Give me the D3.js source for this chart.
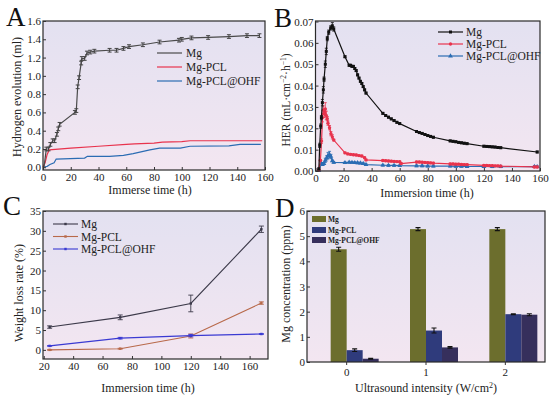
<!DOCTYPE html>
<html>
<head>
<meta charset="utf-8">
<script src="https://cdn.jsdelivr.net/npm/d3@7"></script>
<style>
  body { margin: 0; background: #fff; }
  svg, svg text { font-family: "Liberation Serif", "Times New Roman", Times, serif; }
  .tick text { font-size: 11px; fill: #222; }
  .tick line { stroke: #333; }
</style>
</head>
<body>
<div id="chart"></div>
<script>

// ---- panel A : hydrogen evolution (ml) vs immerse time (h) ----
var aMg = [[0,0],[0.7,0],[2.4,0.2],[4,0.2],[5.3,0.25],[7,0.29],[8.4,0.29],[10,0.36],[11,0.42],[12,0.47],
  [23,0.6],[24,0.62],[25,0.88],[26,0.98],[27.5,1.14],[28,1.19],[30,1.19],[31.7,1.25],[34,1.26],[37,1.27],
  [48,1.28],[53,1.28],[58,1.3],[62,1.32],[72,1.34],[84,1.37],[98,1.39],[100,1.4],[107,1.415],[119,1.42],
  [134,1.43],[147,1.44],[156,1.44]]
var aPCL = [[0,0],[1.5,0.05],[3,0.14],[4.5,0.19],[20,0.21],[40,0.23],[60,0.25],[66,0.255],[80,0.265],
  [86,0.275],[100,0.28],[106,0.29],[158,0.29]]
var aOHF = [[0,0],[3,0.01],[5,0.03],[8,0.05],[9.5,0.09],[30,0.1],[32,0.12],[48,0.12],[58,0.13],[65,0.15],
  [77,0.19],[84,0.21],[99,0.21],[106,0.23],[134,0.235],[142,0.25],[157,0.25]]
var aYTicks = [0,0.2,0.4,0.6,0.8,1.0,1.2,1.4,1.6]
var timeTicks = [0,20,40,60,80,100,120,140,160]

// ---- panel B : HER vs immersion time, [t, value, error] ----
var bMg = [[2.4,0.001],[3,0.012,0.001],[3.7,0.021,0.001],[4.2,0.025,0.001],[4.9,0.032,0.0015],[5.6,0.038,0.0015],
  [6.1,0.043,0.001],[7,0.05,0.0015],[7.7,0.056,0.0015],[8.4,0.062,0.001],[9.4,0.065,0.001],[10.8,0.067,0.001],
  [12,0.068,0.0015],[13,0.0665,0.001],[21,0.0535],[24,0.0495],[25,0.0495],[26,0.049],[27,0.049],[28,0.048],
  [29,0.047],[30,0.045],[31,0.0435],[32,0.042],[33,0.041],[34,0.0395],[35,0.038],[36,0.0365],
  [48,0.027],[50,0.026],[52,0.0252],[54,0.0244],[56,0.0236],[58,0.0228],[60,0.0222],
  [72,0.0185],[74,0.018],[76,0.0176],[78,0.0171],[80,0.0166],[82,0.0162],[84,0.0158],
  [96,0.0141],[98,0.0139],[100,0.0137],[102,0.0134],[104,0.0132],[106,0.013],[108,0.0128],
  [120,0.0116],[122,0.0115],[124,0.0114],[126,0.0113],[128,0.0112],[130,0.011],[132,0.0109],[158,0.0089]]
var bPCL = [[2.4,0.0005],[3.5,0.005],[4.3,0.014,0.001],[5,0.025,0.002],[5.6,0.0285,0.002],[6.3,0.027,0.002],
  [7,0.029,0.003],[7.7,0.026,0.002],[8.4,0.0245,0.001],[8.9,0.0224,0.001],[10,0.0203,0.001],[11,0.0175,0.001],
  [12,0.016,0.001],[13,0.0145],[21,0.0085],[23,0.008],[25,0.0078],[27,0.0076],[29,0.0075],[31,0.0072],
  [33,0.007],[35,0.0062],[36,0.0052],[48,0.0049],[50,0.0048],[52,0.0047],[54,0.0046],[56,0.0045],
  [58,0.0044],[60,0.0043],[61,0.0035],[72,0.0042],[74,0.0042],[76,0.0041],[78,0.004],[80,0.0039],
  [82,0.0038],[84,0.0037],[96,0.0033],[98,0.0033],[100,0.0032],[102,0.0032],[104,0.0031],[106,0.003],
  [108,0.003],[120,0.0026],[122,0.0026],[124,0.0025],[126,0.0025],[128,0.0024],[130,0.0024],[132,0.0023],
  [156,0.0019],[158,0.0019]]
var bOHF = [[2.4,0.0003],[4.3,0.0035],[5,0.003],[6,0.0035],[7,0.005,0.001],[8,0.0062,0.001],[8.9,0.0072,0.0015],
  [10,0.0077,0.0015],[11,0.0068,0.001],[12,0.0048],[13,0.004],[21,0.0039],[24,0.0041],[26,0.004],
  [28,0.0039],[30,0.0038],[32,0.0037],[34,0.0035],[36,0.003],[48,0.0027],[52,0.0026],[56,0.0026],
  [60,0.0025],[72,0.0024],[76,0.0024],[80,0.0023],[84,0.0023],[96,0.0023],[100,0.0022],[104,0.0022],
  [108,0.0021],[120,0.0021],[126,0.002],[132,0.002],[156,0.0021],[158,0.002]]
var bYTicks = [0,0.01,0.02,0.03,0.04,0.05,0.06,0.07]

// ---- panel C : weight loss rate (%) ----
var cTime = [24,72,120,168]
var cMg = [5.75,8.2,11.7,30.4]
var cMgErr = [0.3,0.6,2.1,0.8]
var cPCL = [0,0.3,3.5,11.8]
var cPCLErr = [0.1,0.1,0.5,0.3]
var cOHF = [1.0,2.95,3.6,4.0]
var cOHFErr = [0.1,0.2,0.3,0.1]
var cYTicks = [0,5,10,15,20,25,30,35]
var cXTicks = [20,40,60,80,100,120,140,160]

// ---- panel D : Mg concentration (ppm) ----
var dCats = ["0","1","2"]
var dSeries = ["Mg","Mg-PCL","Mg-PCL@OHF"]
var dMg = [4.48,5.28,5.28]
var dMgErr = [0.08,0.06,0.06]
var dPCL = [0.47,1.25,1.9]
var dPCLErr = [0.05,0.1,0.02]
var dOHF = [0.13,0.58,1.88]
var dOHFErr = [0.02,0.03,0.04]
var dYTicks = [0,1,2,3,4,5,6]

var FONT = "Liberation Serif, Times New Roman, serif"

var svg = d3.select("#chart").append("svg")
  .attr("width", 550).attr("height", 396)
  .attr("font-family", FONT)

var defs = svg.append("defs")
var grad = defs.append("linearGradient").attr("id", "bg")
  .attr("x1", 0).attr("y1", 0).attr("x2", 0).attr("y2", 1)
grad.append("stop").attr("offset", "0%").attr("stop-color", "#e3e1f1")
grad.append("stop").attr("offset", "100%").attr("stop-color", "#f3e6f1")

function frame(x0, y0, x1, y1) {
  svg.append("rect").attr("x", x0).attr("y", y0)
    .attr("width", x1 - x0).attr("height", y1 - y0)
    .attr("fill", "url(#bg)")
}
function border(x0, y0, x1, y1) {
  svg.append("rect").attr("x", x0).attr("y", y0)
    .attr("width", x1 - x0).attr("height", y1 - y0)
    .attr("fill", "none").attr("stroke", "#2a2a2a").attr("stroke-width", 1.2)
}
function axes(x, y, xTicks, yTicks, xFmt, yFmt, bottom, left) {
  var gx = svg.append("g").attr("transform", "translate(0," + bottom + ")")
    .call(d3.axisBottom(x).tickValues(xTicks).tickFormat(xFmt).tickSizeInner(-3).tickSizeOuter(0).tickPadding(3))
  gx.attr("font-family", FONT).select(".domain").remove()
  var gy = svg.append("g").attr("transform", "translate(" + left + ",0)")
    .call(d3.axisLeft(y).tickValues(yTicks).tickFormat(yFmt).tickSizeInner(-3).tickSizeOuter(0).tickPadding(2))
  gy.attr("font-family", FONT).select(".domain").remove()
}
function label(txt, x, y, size, rot) {
  var t = svg.append("text").attr("x", x).attr("y", y)
    .attr("text-anchor", "middle").attr("font-size", size).attr("fill", "#222")
  if (rot) t.attr("transform", "rotate(-90," + x + "," + y + ")")
  t.text(txt)
  return t
}
function letter(txt, x, y) {
  svg.append("text").attr("x", x).attr("y", y).attr("font-size", 27).attr("fill", "#111").text(txt)
}

// ================= A =================
var ax = d3.scaleLinear().domain([0,160]).range([43,265])
var ay = d3.scaleLinear().domain([-0.03,1.6]).range([170,21])
frame(43,21,265,170)
var aLine = d3.line().x(function(d){ return ax(d[0]) }).y(function(d){ return ay(d[1]) })
var aSeries = [
  {name:"Mg", data:aMg, color:"#4a4a4a"},
  {name:"Mg-PCL", data:aPCL, color:"#e8334d"},
  {name:"Mg-PCL@OHF", data:aOHF, color:"#2b6cb3"}
]
aSeries.slice().reverse().forEach(function(s){
  svg.append("path").datum(s.data).attr("d", aLine)
    .attr("fill","none").attr("stroke", s.color).attr("stroke-width", 1.2)
})
// Mg error bars
svg.append("g").selectAll("path").data(aMg.slice(2)).enter().append("path")
  .attr("d", function(d){
    var x = ax(d[0]), y1 = ay(d[1]-0.02), y2 = ay(d[1]+0.02)
    return "M"+(x-2)+","+y1+"H"+(x+2)+"M"+x+","+y1+"V"+y2+"M"+(x-2)+","+y2+"H"+(x+2)
  })
  .attr("stroke", "#444").attr("stroke-width", 1).attr("fill","none")
border(43,21,265,170)
axes(ax, ay, timeTicks, aYTicks, d3.format("d"), d3.format(".1f"), 170, 43)
aSeries.forEach(function(s, i){
  var yy = [53,67,81][i]
  svg.append("line").attr("x1",157).attr("x2",182).attr("y1",yy).attr("y2",yy)
    .attr("stroke", s.color).attr("stroke-width",1.2)
  svg.append("text").attr("x",186).attr("y",yy+4).attr("font-size",11.5).attr("fill","#222").text(s.name)
})
label("Hydrogen evolution (ml)", 21, 97, 12, true)
label("Immerse time (h)", 150, 194, 12)
letter("A", 6, 26)

// ================= B =================
var bx = d3.scaleLinear().domain([0,160]).range([315.5,540])
var by = d3.scaleLinear().domain([0,0.07]).range([171,21.5])
frame(315.5,21,540,171)
var bLine = d3.line().x(function(d){ return bx(d[0]) }).y(function(d){ return by(d[1]) })
var bSeries = [
  {name:"Mg", data:bMg, color:"#111", sym:d3.symbolSquare, size:9},
  {name:"Mg-PCL", data:bPCL, color:"#e8334d", sym:d3.symbolCircle, size:9},
  {name:"Mg-PCL@OHF", data:bOHF, color:"#2b6cb3", sym:d3.symbolTriangle, size:10}
]
bSeries.slice().reverse().forEach(function(s){
  svg.append("path").datum(s.data).attr("d", bLine)
    .attr("fill","none").attr("stroke", s.color).attr("stroke-width", 1.2)
  svg.append("g").selectAll("path").data(s.data).enter().append("path")
    .attr("d", function(d){
      var e = d[2] || 0.0004, x = bx(d[0]), y1 = by(d[1]-e), y2 = by(d[1]+e)
      return "M"+(x-1.5)+","+y1+"H"+(x+1.5)+"M"+x+","+y1+"V"+y2+"M"+(x-1.5)+","+y2+"H"+(x+1.5)
    })
    .attr("stroke", s.color).attr("stroke-width", 0.8).attr("fill","none")
  svg.append("g").selectAll("path.m").data(s.data).enter().append("path")
    .attr("transform", function(d){ return "translate("+bx(d[0])+","+by(d[1])+")" })
    .attr("d", d3.symbol().type(s.sym).size(s.size))
    .attr("fill", s.color)
})
border(315.5,21,540,171)
axes(bx, by, timeTicks, bYTicks, d3.format("d"), d3.format(".2f"), 171, 315.5)
bSeries.forEach(function(s, i){
  var yy = [32,44,56][i]
  svg.append("line").attr("x1",438).attr("x2",463).attr("y1",yy).attr("y2",yy)
    .attr("stroke", s.color).attr("stroke-width",1.2)
  svg.append("path").attr("transform","translate(450.5,"+yy+")")
    .attr("d", d3.symbol().type(s.sym).size(s.size)).attr("fill", s.color)
  svg.append("text").attr("x",466).attr("y",yy+4).attr("font-size",11.5).attr("fill","#222").text(s.name)
})
var bt = svg.append("text").attr("transform","translate(290,100) rotate(-90)")
  .attr("text-anchor","middle").attr("font-size",11.5).attr("fill","#222")
bt.append("tspan").text("HER (mL·cm")
bt.append("tspan").attr("font-size",7.5).attr("dy",-4).text("−2")
bt.append("tspan").attr("dy",4).text("·h")
bt.append("tspan").attr("font-size",7.5).attr("dy",-4).text("−1")
bt.append("tspan").attr("dy",4).text(")")
label("Immersion time (h)", 427, 197, 12)
letter("B", 274, 27)

// ================= C =================
var cx = d3.scaleLinear().domain([19.5,172.5]).range([43,268])
var cy = d3.scaleLinear().domain([-2.3,35]).range([359,211])
frame(43,211,268,359)
var cSeries = [
  {name:"Mg", vals:cMg, err:cMgErr, color:"#3c3a4a"},
  {name:"Mg-PCL", vals:cPCL, err:cPCLErr, color:"#b8694a"},
  {name:"Mg-PCL@OHF", vals:cOHF, err:cOHFErr, color:"#3a3ad2"}
]
var cLine = d3.line().x(function(d){ return cx(d.t) }).y(function(d){ return cy(d.v) })
cSeries.forEach(function(s){
  var pts = cTime.map(function(t, i){ return {t:t, v:s.vals[i], e:s.err[i]} })
  svg.append("path").datum(pts).attr("d", cLine)
    .attr("fill","none").attr("stroke", s.color).attr("stroke-width", 1.1)
  svg.append("g").selectAll("path").data(pts).enter().append("path")
    .attr("d", function(d){
      var x = cx(d.t), y1 = cy(d.v-d.e), y2 = cy(d.v+d.e)
      return "M"+(x-2.5)+","+y1+"H"+(x+2.5)+"M"+x+","+y1+"V"+y2+"M"+(x-2.5)+","+y2+"H"+(x+2.5)
    })
    .attr("stroke", s.color).attr("stroke-width", 0.9).attr("fill","none")
  svg.append("g").selectAll("rect").data(pts).enter().append("rect")
    .attr("x", function(d){ return cx(d.t)-1.2 }).attr("y", function(d){ return cy(d.v)-1.2 })
    .attr("width",2.4).attr("height",2.4).attr("fill", s.color)
})
border(43,211,268,359)
axes(cx, cy, cXTicks, cYTicks, d3.format("d"), d3.format("d"), 359, 43)
cSeries.forEach(function(s, i){
  var yy = [224,236.5,249][i]
  svg.append("line").attr("x1",53).attr("x2",78).attr("y1",yy).attr("y2",yy)
    .attr("stroke", s.color).attr("stroke-width",1.1)
  svg.append("rect").attr("x",64.3).attr("y",yy-1.2).attr("width",2.4).attr("height",2.4).attr("fill",s.color)
  svg.append("text").attr("x",81).attr("y",yy+4).attr("font-size",11.5).attr("fill","#222").text(s.name)
})
label("Weight loss rate (%)", 23, 293, 12, true)
label("Immersion time (h)", 148, 392, 12)
letter("C", 3, 215)

// ================= D =================
var dx = d3.scaleBand().domain(dCats).range([307,545])
var dSub = d3.scaleBand().domain(dSeries).range([-16,32])
var dy = d3.scaleLinear().domain([0,6]).range([362,211])
frame(307,211,545,362)
var dColors = {"Mg":"#6c6e2d","Mg-PCL":"#2f3b7c","Mg-PCL@OHF":"#362f5c"}
var dVals = {"Mg":dMg,"Mg-PCL":dPCL,"Mg-PCL@OHF":dOHF}
var dErrs = {"Mg":dMgErr,"Mg-PCL":dPCLErr,"Mg-PCL@OHF":dOHFErr}
var dRows = []
dCats.forEach(function(c, i){
  dSeries.forEach(function(s){
    dRows.push({cat:c, s:s, v:dVals[s][i], e:dErrs[s][i]})
  })
})
function cxD(d){ return dx(d.cat) + dx.bandwidth()/2 + dSub(d.s) }
svg.append("g").selectAll("rect").data(dRows).enter().append("rect")
  .attr("x", cxD).attr("width", dSub.bandwidth())
  .attr("y", function(d){ return dy(d.v) }).attr("height", function(d){ return dy(0)-dy(d.v) })
  .attr("fill", function(d){ return dColors[d.s] })
svg.append("g").selectAll("path").data(dRows).enter().append("path")
  .attr("d", function(d){
    var x = cxD(d) + dSub.bandwidth()/2, y1 = dy(d.v-d.e), y2 = dy(d.v+d.e)
    return "M"+(x-2.5)+","+y1+"H"+(x+2.5)+"M"+x+","+y1+"V"+y2+"M"+(x-2.5)+","+y2+"H"+(x+2.5)
  })
  .attr("stroke","#111").attr("stroke-width",1.1).attr("fill","none")
border(307,211,545,362)
var gdx = svg.append("g").attr("transform","translate(0,362)")
  .call(d3.axisBottom(dx).tickSizeInner(3).tickSizeOuter(0).tickPadding(3))
gdx.attr("font-family", FONT).select(".domain").remove()
var gdy = svg.append("g").attr("transform","translate(307,0)")
  .call(d3.axisLeft(dy).tickValues(dYTicks).tickFormat(d3.format("d")).tickSizeInner(-3).tickSizeOuter(0).tickPadding(2))
gdy.attr("font-family", FONT).select(".domain").remove()
dSeries.forEach(function(s, i){
  var yy = [216,227,237][i]
  svg.append("rect").attr("x",312).attr("y",yy).attr("width",14).attr("height",6).attr("fill", dColors[s])
  svg.append("text").attr("x",328).attr("y",yy+6).attr("font-size",7.5).attr("font-weight","bold")
    .attr("fill","#222").text(s)
})
label("Mg concentration (ppm)", 290, 284, 12, true)
var dt = svg.append("text").attr("x",426).attr("y",392).attr("text-anchor","middle")
  .attr("font-size",12).attr("fill","#222")
dt.append("tspan").text("Ultrasound intensity (W/cm")
dt.append("tspan").attr("font-size",8).attr("dy",-4).text("2")
dt.append("tspan").attr("dy",4).text(")")
letter("D", 275, 217)

</script>
</body>
</html>
